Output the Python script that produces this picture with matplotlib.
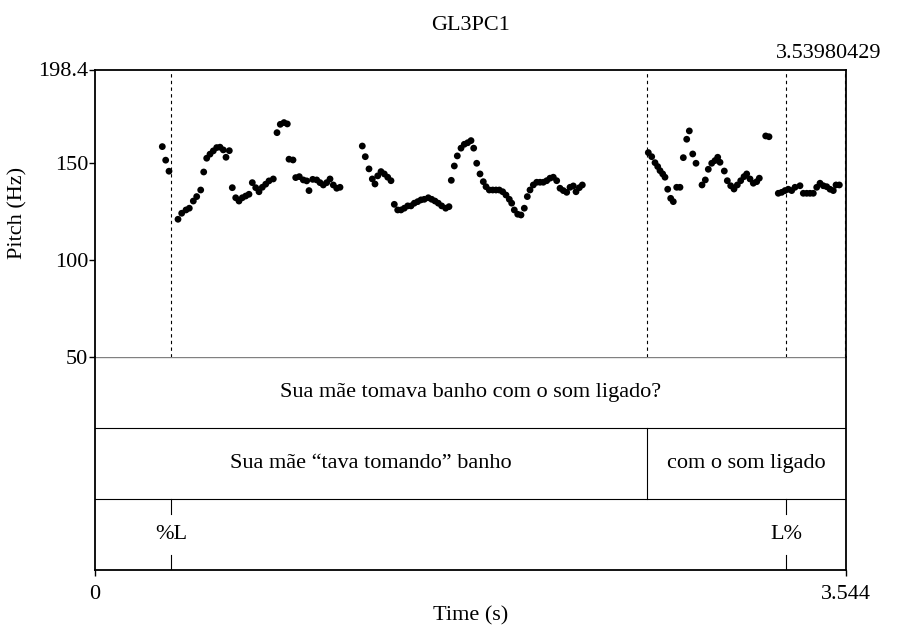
import matplotlib
matplotlib.use("Agg")
import matplotlib.pyplot as plt

# ---------------- data ----------------
title = "GL3PC1"
t_max = 3.544
f_min, f_max = 50.0, 198.4
ytick_vals = [50, 100, 150, 198.4]
ytick_labels = ["50", "100", "150", "198.4"]

pitch_t = [
    0.3176, 0.3336, 0.3492,
    0.3917, 0.4091, 0.4294, 0.4450, 0.4639, 0.4799, 0.4988, 0.5130, 0.5271, 0.5427,
    0.5583, 0.5743, 0.5899, 0.6054, 0.6182, 0.6338,
    0.6479, 0.6640, 0.6795, 0.6951, 0.7112, 0.7267, 0.7423, 0.7584, 0.7739, 0.7895,
    0.8055, 0.8211, 0.8414, 0.8589, 0.8744, 0.8919, 0.9075, 0.9155, 0.9344, 0.9471,
    0.9641, 0.9830, 0.9990, 1.0099, 1.0273, 1.0462, 1.0618, 1.0773, 1.0934, 1.1090,
    1.1245, 1.1406, 1.1562,
    1.2614, 1.2755, 1.2930, 1.3086, 1.3213, 1.3341, 1.3496, 1.3652, 1.3813, 1.3968,
    1.4124, 1.4284, 1.4440, 1.4596, 1.4757, 1.4912, 1.5068, 1.5229, 1.5384, 1.5540,
    1.5729, 1.5889, 1.6045, 1.6200, 1.6361, 1.6549, 1.6705,
    1.6814, 1.6956, 1.7097, 1.7272, 1.7427, 1.7588, 1.7744, 1.7871, 1.8013, 1.8169,
    1.8324, 1.8452, 1.8607, 1.8768, 1.8924, 1.9079, 1.9240, 1.9395, 1.9551, 1.9664,
    1.9787, 1.9947, 2.0103, 2.0259, 2.0401, 2.0528, 2.0684, 2.0845, 2.1000, 2.1156,
    2.1316, 2.1472, 2.1628, 2.1788, 2.1944, 2.2100, 2.2260, 2.2416, 2.2572, 2.2699,
    2.2855, 2.2997,
    2.6111, 2.6271, 2.6427, 2.6554, 2.6663, 2.6790, 2.6898, 2.7026, 2.7167, 2.7290,
    2.7450, 2.7606, 2.7763, 2.7923, 2.8046, 2.8207, 2.8362, 2.8645, 2.8801, 2.8942,
    2.9103, 2.9259, 2.9386, 2.9495, 2.9697, 2.9839, 2.9999, 3.0155, 3.0311, 3.0471,
    3.0627, 3.0754, 3.0911, 3.1066, 3.1226, 3.1349, 3.1650, 3.1807,
    3.2245, 3.2405, 3.2561, 3.2717, 3.2877, 3.3033, 3.3269, 3.3425, 3.3586, 3.3742,
    3.3898, 3.4058, 3.4214, 3.4370, 3.4530, 3.4686, 3.4841, 3.4969, 3.5125,
]
pitch_hz = [
    158.6, 151.6, 145.9,
    121.1, 124.2, 125.9, 126.8, 130.5, 132.8, 136.2, 145.5, 152.6, 154.7,
    156.4, 158.1, 158.3, 156.9, 153.1, 156.5,
    137.4, 132.2, 130.5, 132.2, 133.1, 134.0, 140.0, 137.4, 135.3, 137.6,
    139.2, 140.9, 141.9, 165.8, 170.1, 171.0, 170.3, 152.1, 151.7, 142.6,
    143.1, 141.4, 140.9, 135.9, 141.7, 141.4, 140.0, 138.8, 140.0, 141.9,
    138.8, 137.1, 137.6,
    158.9, 153.4, 147.1, 141.9, 139.3, 143.5, 145.7, 144.5, 142.8, 141.0,
    128.8, 125.9, 125.9, 126.8, 128.0, 128.0, 129.4, 130.2, 131.1, 131.4,
    132.2, 131.4, 130.5, 129.4, 128.0, 126.8, 127.6,
    141.2, 148.6, 153.8, 157.8, 159.8, 160.6, 161.7, 157.8, 150.0, 144.5,
    140.5, 137.9, 136.2, 136.2, 136.2, 136.2, 135.3, 133.6, 131.4, 129.4,
    125.9, 123.7, 123.3, 126.8, 132.8, 136.2, 138.8, 140.2, 140.2, 140.2,
    141.0, 142.3, 142.8, 141.0, 137.1, 135.9, 135.0, 137.6, 138.3, 135.3,
    137.4, 138.8,
    155.5, 153.4, 150.3, 148.3, 146.2, 144.5, 142.8, 136.6, 131.9, 130.2,
    137.6, 137.6, 152.9, 162.4, 166.7, 154.8, 150.0, 138.8, 141.4, 146.9,
    150.0, 151.4, 153.1, 150.5, 146.0, 141.0, 138.4, 136.7, 138.8, 141.0,
    143.1, 144.5, 141.9, 139.7, 140.5, 142.3, 164.1, 163.7,
    134.5, 135.0, 135.9, 136.6, 135.9, 137.6, 138.4, 134.5, 134.5, 134.5,
    134.5, 137.6, 139.7, 138.4, 137.9, 136.6, 135.9, 138.8, 138.8,
]

# tier 1: one interval
tier1_bounds = [0.0, t_max]
tier1_labels = ["Sua mãe tomava banho com o som ligado?"]
# tier 2: two intervals
tier2_bounds = [0.0, 2.605, t_max]
tier2_labels = ["Sua mãe \u201ctava tomando\u201d banho", "com o som ligado"]
# tier 3: point tier
tier3_times = [0.3587, 3.261]
tier3_labels = ["%L", "L%"]
# dashed marker lines in the pitch area
marker_times = [0.3587, 2.605, 3.261, 3.53980429]
marker_label = "3.53980429"

# ---------------- drawing ----------------
plt.rcParams['font.family'] = ['Liberation Serif', 'DejaVu Serif']
FS = 16
W, H = 897, 626
fig = plt.figure(figsize=(W / 100, H / 100), dpi=100)

left_px, right_px = 95, 846
top_px, mid_px, bot_px = 69.5, 357, 570
ax_p = fig.add_axes([left_px / W, 1 - mid_px / H, (right_px - left_px) / W, (mid_px - top_px) / H])
ax_t = fig.add_axes([left_px / W, 1 - bot_px / H, (right_px - left_px) / W, (bot_px - mid_px) / H])

# pitch panel
ax_p.set_xlim(0, t_max)
ax_p.set_ylim(f_min, f_max)
ax_p.scatter(pitch_t, pitch_hz, s=24, color='black', edgecolors='none', zorder=3)
for mt in marker_times:
    ax_p.axvline(mt, color='black', lw=0.8, ls=(0, (3, 3)), zorder=2)
ax_p.set_xticks([])
ax_p.set_yticks(ytick_vals)
ax_p.set_yticklabels(ytick_labels, fontsize=FS)
ax_p.tick_params(axis='y', direction='out', length=4, width=1, pad=1)
for side in ['left', 'top', 'right']:
    ax_p.spines[side].set_linewidth(1.3)
ax_p.spines['bottom'].set_visible(False)
ax_p.set_ylabel("Pitch (Hz)", fontsize=FS, va='center')
ax_p.yaxis.set_label_coords(-0.1025, 0.5)

# tiers panel
ax_t.set_xlim(0, t_max)
ax_t.set_ylim(0, 3)
for y in [1, 2]:
    ax_t.axhline(y, color='black', lw=0.8)
ax_t.axhline(3, color='#808080', lw=1.0)
# tier 1 (top)
for i, lab in enumerate(tier1_labels):
    ax_t.text((tier1_bounds[i] + tier1_bounds[i + 1]) / 2, 2.5, lab,
              ha='center', va='center', fontsize=FS)
# tier 2
for b in tier2_bounds[1:-1]:
    ax_t.plot([b, b], [1, 2], color='black', lw=0.8)
for i, lab in enumerate(tier2_labels):
    ax_t.text((tier2_bounds[i] + tier2_bounds[i + 1]) / 2, 1.5, lab,
              ha='center', va='center', fontsize=FS)
# tier 3 (points)
for tt, lab in zip(tier3_times, tier3_labels):
    ax_t.plot([tt, tt], [1, 1 - 0.21], color='black', lw=0.8)
    ax_t.plot([tt, tt], [0, 0.21], color='black', lw=0.8)
    ax_t.text(tt, 0.5, lab, ha='center', va='center', fontsize=FS)

ax_t.set_yticks([])
ax_t.set_xticks([0, t_max])
ax_t.set_xticklabels(["0", "3.544"], fontsize=FS)
ax_t.tick_params(axis='x', direction='out', length=4.5, width=1, pad=6.5)
for side in ['left', 'bottom', 'right']:
    ax_t.spines[side].set_linewidth(1.3)
ax_t.spines['top'].set_visible(False)
ax_t.text(0.5, (bot_px - 616) / (bot_px - mid_px), "Time (s)", transform=ax_t.transAxes,
          ha='center', va='center', fontsize=FS)

# title and marker time label
fig.text((left_px + right_px) / 2 / W, 1 - 26 / H, title, ha='center', va='center', fontsize=FS)
fig.text(881 / W, 1 - 54 / H, marker_label, ha='right', va='center', fontsize=FS)

fig.savefig("out.png", dpi=100)
